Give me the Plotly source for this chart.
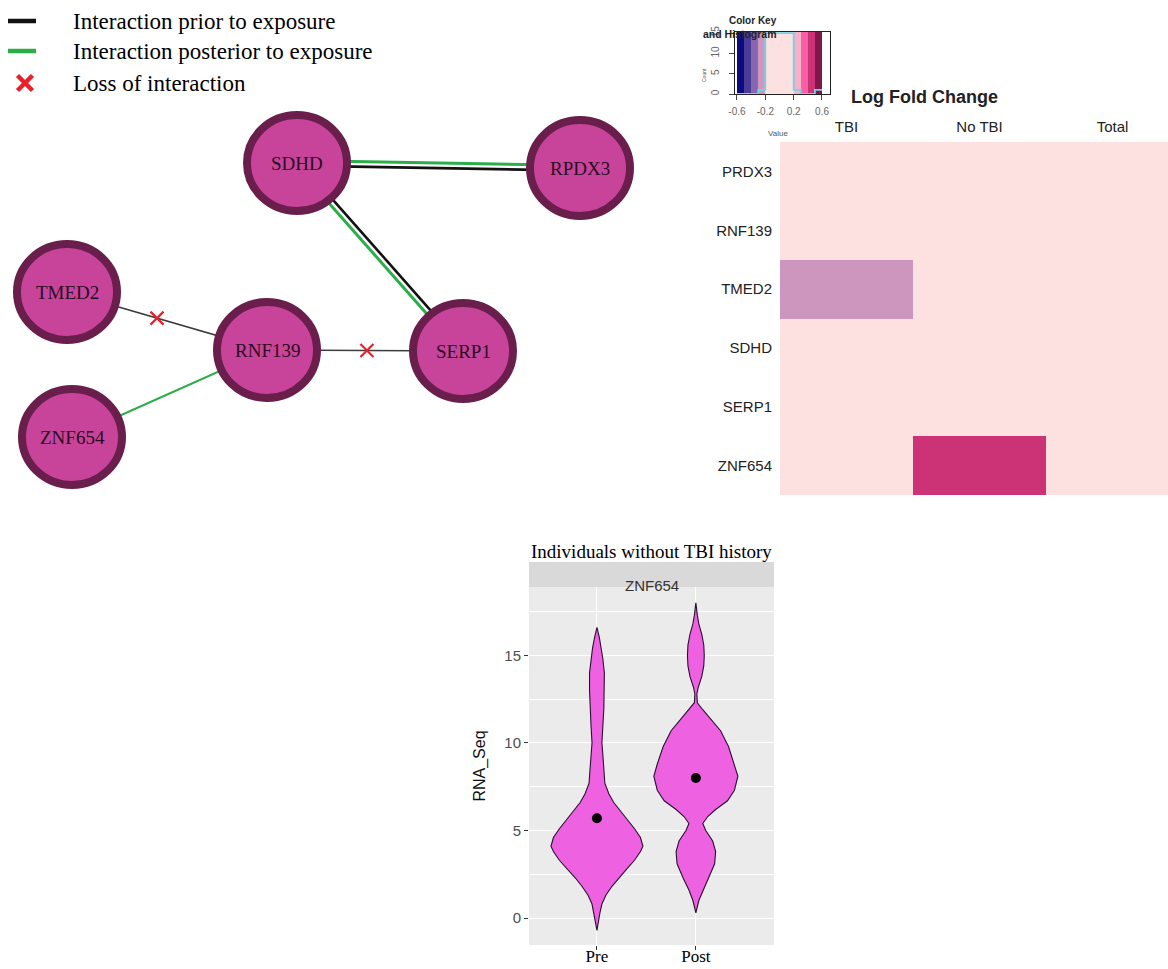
import plotly.graph_objects as go

W, H = 1168, 969

# ---------------- network data (pixel units of the network panel) ----------------
node_names = ["SDHD", "RPDX3", "TMED2", "RNF139", "SERP1", "ZNF654"]
node_x = [297, 580, 67, 267, 463, 72]
node_y = [163, 168, 292, 350, 351, 437]

prior_pairs = [("SDHD", "RPDX3"), ("SERP1", "SDHD"), ("TMED2", "RNF139"), ("RNF139", "SERP1")]
posterior_pairs = [("SDHD", "RPDX3"), ("SERP1", "SDHD"), ("ZNF654", "RNF139")]
lost_pairs = [("TMED2", "RNF139"), ("RNF139", "SERP1")]
lost_frac = [0.45, 0.51]

legend_labels = ["Interaction prior to exposure",
                 "Interaction posterior to exposure",
                 "Loss of interaction"]

# ---------------- heatmap data ----------------
hm_genes = ["PRDX3", "RNF139", "TMED2", "SDHD", "SERP1", "ZNF654"]
hm_groups = ["TBI", "No TBI", "Total"]
hm_tbi = [0.01, 0.00, -0.25, 0.00, 0.01, 0.02]
hm_notbi = [0.00, 0.01, 0.02, 0.00, 0.01, 0.45]
hm_total = [0.02, 0.01, 0.01, 0.00, 0.02, 0.03]

key_breaks = [-0.6, -0.5, -0.4, -0.3, -0.2, 0.2, 0.3, 0.4, 0.5, 0.6]
key_colors = ["#0B0B7F", "#4A3C96", "#8666AE", "#CC96BE", "#FDE1E1",
              "#F7B0C8", "#F75FA8", "#CC3377", "#7F1749"]
hist_counts = [0, 0, 0, 1, 15, 1, 0, 0, 1]
key_count_max = 16
key_xticks = [-0.6, -0.2, 0.2, 0.6]
key_yticks = [0, 5, 10, 15]

# ---------------- violin data ----------------
violin_groups = ["Pre", "Post"]
pre_y = [-0.7, -0.2, 0.3, 0.8, 1.3, 1.8, 2.3, 2.8, 3.3, 3.8, 4.1, 4.6, 5.1, 5.6, 6.1,
         6.6, 7.1, 7.7, 8.5, 9.3, 10.0, 11.0, 12.0, 13.0, 14.0, 14.8, 15.4, 16.0, 16.6]
pre_half = [0, 0.015, 0.03, 0.05, 0.09, 0.15, 0.22, 0.30, 0.38, 0.44, 0.465, 0.44, 0.38,
            0.31, 0.24, 0.17, 0.12, 0.08, 0.07, 0.06, 0.05, 0.06, 0.07, 0.075, 0.075,
            0.06, 0.045, 0.025, 0]
post_y = [0.3, 1.0, 1.6, 2.3, 3.1, 3.8, 4.4, 5.0, 5.4, 5.8, 6.2, 6.7, 7.3, 8.1, 8.8,
          9.8, 10.7, 11.5, 11.9, 12.3, 12.8, 13.2, 13.8, 14.4, 15.0, 15.6, 16.2, 16.8,
          17.3, 18.0]
post_half = [0, 0.03, 0.07, 0.13, 0.19, 0.2, 0.17, 0.1, 0.07, 0.12, 0.2, 0.32, 0.39,
             0.425, 0.39, 0.33, 0.25, 0.13, 0.07, 0.015, 0.01, 0.025, 0.06, 0.08, 0.085,
             0.08, 0.06, 0.03, 0.015, 0]
group_means = [5.7, 8.0]
violin_yticks = [0, 5, 10, 15]


# ---------------- helpers ----------------
def dx(a, b):
    return [a / W, b / W]


def dy(top, bottom):
    return [1 - bottom / H, 1 - top / H]


pos = {n: (x, y) for n, x, y in zip(node_names, node_x, node_y)}

fig = go.Figure()

BLACK = "#111111"
GREY = "#3C3C3C"
GREEN = "#2BAE4A"
RED = "#E8202A"

prior_set = {frozenset(p) for p in prior_pairs}
post_set = {frozenset(p) for p in posterior_pairs}


def edge_xy(a, b, off):
    (x0, y0), (x1, y1) = pos[a], pos[b]
    L = ((x1 - x0) ** 2 + (y1 - y0) ** 2) ** 0.5
    nx, ny = -(y1 - y0) / L, (x1 - x0) / L
    return [x0 + nx * off, x1 + nx * off], [y0 + ny * off, y1 + ny * off]


for a, b in prior_pairs:
    double = frozenset((a, b)) in post_set
    xs, ys = edge_xy(a, b, 2.6 if double else 0)
    fig.add_trace(go.Scatter(x=xs, y=ys, mode="lines", xaxis="x", yaxis="y",
                             line=dict(color=BLACK if double else GREY,
                                       width=2.6 if double else 1.6),
                             showlegend=False, hoverinfo="skip"))
for a, b in posterior_pairs:
    double = frozenset((a, b)) in prior_set
    xs, ys = edge_xy(a, b, -2.6 if double else 0)
    fig.add_trace(go.Scatter(x=xs, y=ys, mode="lines", xaxis="x", yaxis="y",
                             line=dict(color=GREEN, width=3 if double else 2),
                             showlegend=False, hoverinfo="skip"))

lx, ly = [], []
for (a, b), f in zip(lost_pairs, lost_frac):
    (x0, y0), (x1, y1) = pos[a], pos[b]
    lx.append(x0 + (x1 - x0) * f)
    ly.append(y0 + (y1 - y0) * f)
fig.add_trace(go.Scatter(x=lx, y=ly, mode="markers", xaxis="x", yaxis="y",
                         marker=dict(symbol="x-thin", size=13, line=dict(color=RED, width=2.2)),
                         showlegend=False, hoverinfo="skip"))

# legend (drawn inside the network panel, pixel units)
LEG_ROW_Y = [21, 51, 83]
fig.add_trace(go.Scatter(x=[8, 36], y=[LEG_ROW_Y[0]] * 2, mode="lines", xaxis="x", yaxis="y",
                         line=dict(color=BLACK, width=4.5), showlegend=False, hoverinfo="skip"))
fig.add_trace(go.Scatter(x=[8, 36], y=[LEG_ROW_Y[1]] * 2, mode="lines", xaxis="x", yaxis="y",
                         line=dict(color=GREEN, width=4.5), showlegend=False, hoverinfo="skip"))
fig.add_trace(go.Scatter(x=[25], y=[LEG_ROW_Y[2]], mode="markers", xaxis="x", yaxis="y",
                         marker=dict(symbol="x-thin", size=15, line=dict(color=RED, width=4.5)),
                         showlegend=False, hoverinfo="skip"))

shapes = []
annotations = []
for lab, yy in zip(legend_labels, LEG_ROW_Y):
    annotations.append(dict(x=71, y=yy, xref="x", yref="y", xanchor="left", text=lab,
                            showarrow=False,
                            font=dict(family="Liberation Serif", size=23, color="black")))

RX, RY = 50, 48
for n in node_names:
    cx, cy = pos[n]
    shapes.append(dict(type="circle", xref="x", yref="y", layer="above",
                       x0=cx - RX, x1=cx + RX, y0=cy - RY, y1=cy + RY,
                       fillcolor="#C8449A", line=dict(color="#6A1E4C", width=8)))
    annotations.append(dict(x=cx, y=cy, xref="x", yref="y", text=n, showarrow=False,
                            font=dict(family="Liberation Serif", size=19, color="#2A0A22")))

# ---------------- colour key ----------------
zmin, zmax = key_breaks[0], key_breaks[-1]
cscale = []
for i, c in enumerate(key_colors):
    a = (key_breaks[i] - zmin) / (zmax - zmin)
    b = (key_breaks[i + 1] - zmin) / (zmax - zmin)
    cscale += [[a, c], [b, c]]
key_mid = [(key_breaks[i] + key_breaks[i + 1]) / 2 for i in range(len(key_colors))]

fig.add_trace(go.Heatmap(x=key_breaks, y=[0, key_count_max], z=[key_mid],
                         colorscale=cscale, zmin=zmin, zmax=zmax, showscale=False,
                         xaxis="x2", yaxis="y2", hoverinfo="skip"))
fig.add_trace(go.Scatter(x=key_breaks, y=hist_counts + [hist_counts[-1]], mode="lines",
                         line=dict(color="#6AD8E6", width=1.8, shape="hv"),
                         xaxis="x2", yaxis="y2", showlegend=False, hoverinfo="skip"))

# ---------------- heatmap ----------------
hm_z = [[t, n, s] for t, n, s in zip(hm_tbi, hm_notbi, hm_total)]
fig.add_trace(go.Heatmap(x=hm_groups, y=hm_genes, z=hm_z, colorscale=cscale,
                         zmin=zmin, zmax=zmax, showscale=False, xaxis="x3", yaxis="y3",
                         xgap=0, ygap=0))

# ---------------- violin ----------------
for i, (g, ys, hw) in enumerate([("Pre", pre_y, pre_half), ("Post", post_y, post_half)]):
    c = i + 1
    xs = [c - w for w in hw] + [c + w for w in reversed(hw)]
    yy = ys + list(reversed(ys))
    fig.add_trace(go.Scatter(x=xs, y=yy, mode="lines", fill="toself", fillcolor="#EE62E2",
                             line=dict(color="#2A1030", width=1.1), xaxis="x4", yaxis="y4",
                             showlegend=False, hoverinfo="skip"))
fig.add_trace(go.Scatter(x=[1, 2], y=group_means, mode="markers",
                         marker=dict(color="black", size=10), xaxis="x4", yaxis="y4",
                         showlegend=False))

# panel background and strip
shapes.append(dict(type="rect", xref="x4 domain", yref="y4 domain", x0=0, x1=1, y0=0, y1=1,
                   fillcolor="#EBEBEB", line=dict(width=0), layer="below"))
shapes.append(dict(type="rect", xref="x4 domain", yref="y4 domain", x0=0, x1=1,
                   y0=1, y1=1 + 25 / 358, fillcolor="#D9D9D9", line=dict(width=0), layer="below"))
annotations.append(dict(x=0.5, y=1 + 12.5 / 358, xref="x4 domain", yref="y4 domain",
                        text="ZNF654", showarrow=False,
                        font=dict(family="Liberation Sans", size=15, color="#333333")))
annotations.append(dict(x=651 / W, y=1 - 551 / H, xref="paper", yref="paper",
                        text="Individuals without TBI history", showarrow=False,
                        font=dict(family="Liberation Serif", size=19, color="black")))

# heatmap / key text
annotations.append(dict(x=1000 / W, y=1 - 85 / H, xref="paper", yref="paper",
                        text="<b>Log Fold Change</b>", showarrow=False,
                        font=dict(family="Liberation Sans", size=18, color="#222222")))
annotations.append(dict(x=779 / W, y=1 - 13 / H, xref="paper", yref="paper",
                        text="<b>Color Key</b>", showarrow=False,
                        font=dict(family="Liberation Sans", size=10, color="#222222")))
annotations.append(dict(x=779 / W, y=1 - 26 / H, xref="paper", yref="paper",
                        text="<b>and Histogram</b>", showarrow=False,
                        font=dict(family="Liberation Sans", size=10.5, color="#222222")))
annotations.append(dict(x=778 / W, y=1 - 127 / H, xref="paper", yref="paper",
                        text="Value", showarrow=False,
                        font=dict(family="Liberation Sans", size=8, color="#555555")))
annotations.append(dict(x=704 / W, y=1 - 66 / H, xref="paper", yref="paper",
                        text="Count", showarrow=False, textangle=-90,
                        font=dict(family="Liberation Sans", size=5, color="#555555")))

hidden = dict(visible=False, showgrid=False, zeroline=False, automargin=False)

fig.update_layout(
    width=W, height=H, margin=dict(l=0, r=0, t=0, b=0, autoexpand=False),
    paper_bgcolor="white", plot_bgcolor="rgba(0,0,0,0)",
    shapes=shapes, annotations=annotations,
    showlegend=False,
    xaxis=dict(domain=dx(0, 660), range=[0, 660], **hidden),
    yaxis=dict(domain=dy(0, 500), range=[500, 0], **hidden),
    xaxis2=dict(domain=dx(735, 830), range=[-0.628, 0.713], anchor="y2", automargin=False,
                tickvals=key_xticks, ticktext=[f"{v:g}" for v in key_xticks],
                ticks="outside", ticklen=5, tickcolor="#444", showgrid=False, zeroline=False,
                showline=True, mirror=True, linecolor="#222", linewidth=1,
                ticklabelstandoff=3,
                tickfont=dict(family="Liberation Sans", size=10, color="#666666")),
    yaxis2=dict(domain=dy(32, 94), range=[0, 15.3], anchor="x2", automargin=False,
                tickvals=key_yticks, ticks="outside", ticklen=5, tickcolor="#444",
                tickangle=-90, showgrid=False, zeroline=False, ticklabelstandoff=6,
                showline=True, mirror=True, linecolor="#222", linewidth=1,
                tickfont=dict(family="Liberation Sans", size=10, color="#666666")),
    xaxis3=dict(domain=dx(780, 1168), range=[-0.5, 2.417], anchor="y3", side="top",
                automargin=False,
                showgrid=False, zeroline=False, ticks="", ticklabelstandoff=6,
                tickfont=dict(family="Liberation Sans", size=15, color="#222222")),
    yaxis3=dict(domain=dy(142, 495), range=[5.5, -0.5], anchor="x3", automargin=False,
                showgrid=False, zeroline=False, ticks="", ticklabelstandoff=7,
                tickfont=dict(family="Liberation Sans", size=15, color="#222222")),
    xaxis4=dict(domain=dx(529, 774), range=[0.313, 2.79], anchor="y4", automargin=False,
                tickvals=[1, 2], ticktext=violin_groups, ticks="outside", ticklen=4,
                tickcolor="#333", showgrid=True, gridcolor="white", gridwidth=1.4,
                zeroline=False, ticklabelstandoff=-8,
                tickfont=dict(family="Liberation Serif", size=17, color="black")),
    yaxis4=dict(domain=dy(587, 945), range=[-1.54, 18.91], anchor="x4", automargin=False,
                tickvals=violin_yticks, ticks="outside", ticklen=4, tickcolor="#333",
                showgrid=True, gridcolor="white", gridwidth=1.4, zeroline=False,
                minor=dict(dtick=2.5, tick0=0, showgrid=True, gridcolor="white",
                           gridwidth=0.7, ticks=""),
                tickfont=dict(family="Liberation Sans", size=15, color="#4D4D4D"),
                title=dict(text="RNA_Seq", standoff=14,
                           font=dict(family="Liberation Sans", size=16, color="#111111"))),
)

fig.write_html("out.html", config={"displayModeBar": False},
               post_script="document.body.style.margin='0';"
                           "document.body.style.overflow='hidden';")
